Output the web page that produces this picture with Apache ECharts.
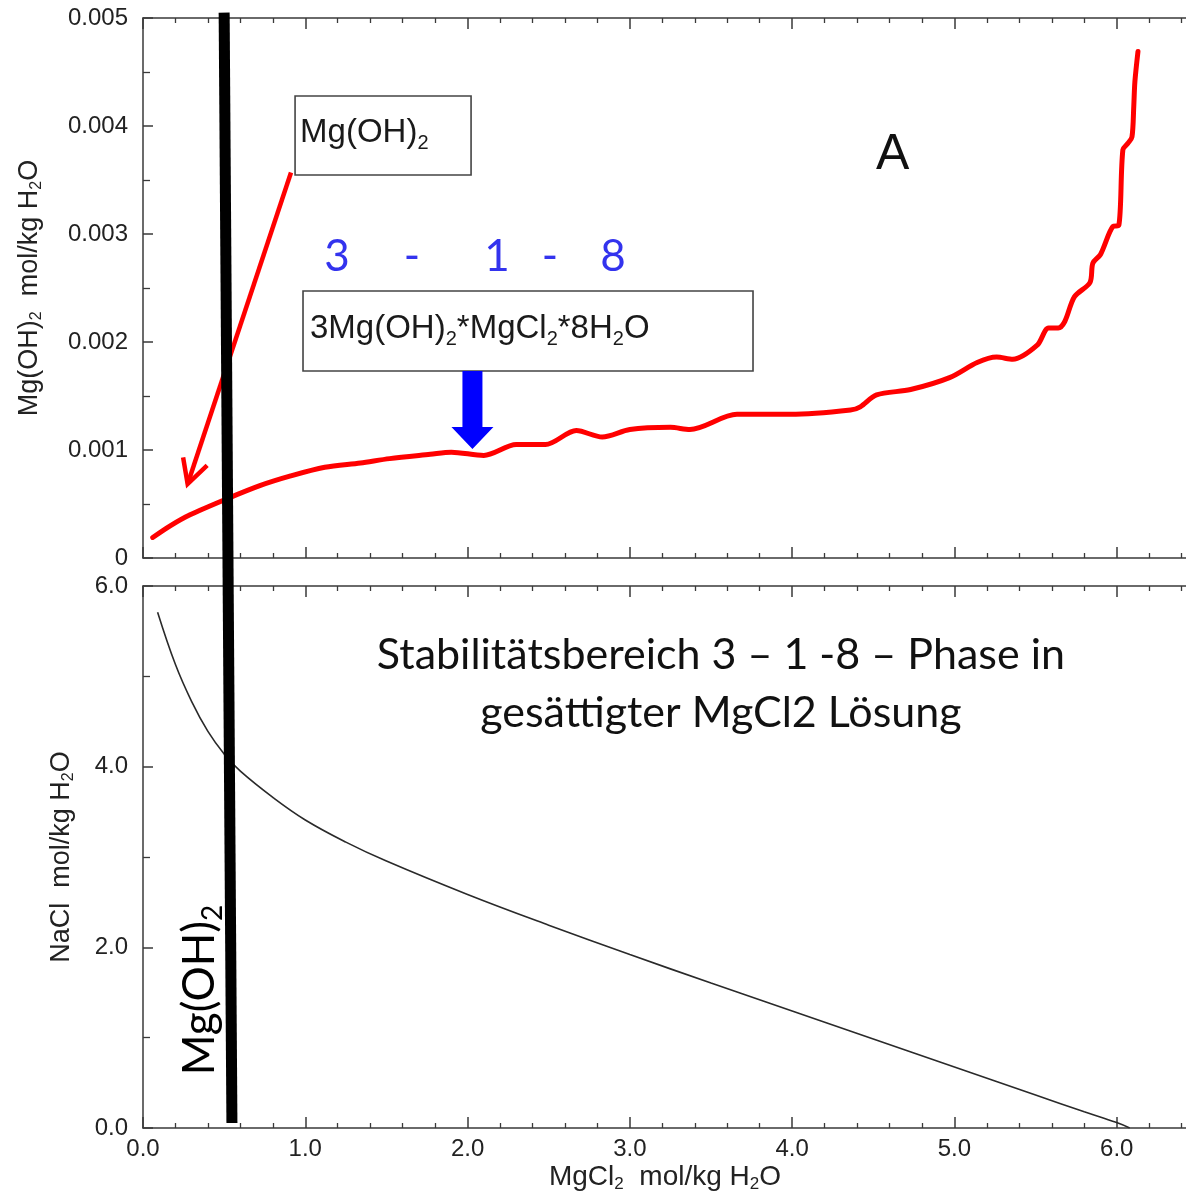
<!DOCTYPE html>
<html>
<head>
<meta charset="utf-8">
<script src="https://cdn.jsdelivr.net/npm/echarts@6/dist/echarts.min.js"></script>
<style>
  html, body { margin: 0; padding: 0; background: #fff; }
  #chart { width: 1186px; height: 1199px; }
</style>
</head>
<body>
<div id="chart"></div>
<script>
// Mg(OH)2 solubility along the 3-1-8 phase boundary (mol/kg H2O) vs MgCl2 (mol/kg H2O)
const mgcl2Upper = [0.06, 0.17, 0.29, 0.52, 0.72, 0.91, 1.12, 1.34, 1.52, 1.77, 1.90, 2.10, 2.30, 2.48,
  2.67, 2.83, 3.00, 3.25, 3.37, 3.66, 3.99, 4.36, 4.42, 4.52, 4.73, 4.97, 5.14, 5.26, 5.36, 5.51,
  5.58, 5.64, 5.68, 5.74, 5.835, 5.853, 5.90, 5.977, 6.013, 6.038, 6.069, 6.094, 6.105, 6.112, 6.131];
const mgoh2Upper = [0.00019, 0.00030, 0.00040, 0.00055, 0.00067, 0.00076, 0.00084, 0.00088, 0.00092,
  0.00096, 0.00098, 0.00095, 0.00105, 0.00105, 0.00118, 0.00112, 0.00119, 0.00121, 0.00119, 0.00133,
  0.00133, 0.00137, 0.00140, 0.00151, 0.00156, 0.00167, 0.00181, 0.00186, 0.00184, 0.00197, 0.00213,
  0.00213, 0.00219, 0.00242, 0.00255, 0.00273, 0.00281, 0.00307, 0.00308, 0.00378, 0.00384, 0.00390,
  0.00418, 0.00441, 0.00469];

// NaCl saturation (mol/kg H2O) vs MgCl2 (mol/kg H2O)
const mgcl2Lower = [0.09, 0.20, 0.30, 0.40, 0.50, 0.60, 0.80, 1.00, 1.25, 1.50, 2.00, 2.50, 3.00,
  3.50, 4.00, 4.50, 5.00, 5.50, 5.80, 6.00, 6.08];
const naclLower = [5.71, 5.13, 4.72, 4.39, 4.14, 3.95, 3.66, 3.41, 3.165, 2.955, 2.585, 2.245, 1.92,
  1.605, 1.295, 0.985, 0.675, 0.365, 0.18, 0.06, 0.0];

const xTickValues = [0, 1, 2, 3, 4, 5, 6];
const upperYTicks = [0, 0.001, 0.002, 0.003, 0.004, 0.005];
const lowerYTicks = [0, 2, 4, 6];

const sansFont = '"Liberation Sans", Arial, Helvetica, sans-serif';
const noteFont = 'Lato, "Open Sans", sans-serif';
const axisInk = '#3a3a3a';

function pairs(xs, ys) { return xs.map((x, i) => [x, ys[i]]); }

function xAxisFor(grid, position, withLabels) {
  const ax = {
    gridIndex: grid, type: 'value', position: position,
    min: 0, max: xTickValues[xTickValues.length - 1] + 1, interval: 1,
    axisLine: { onZero: false, lineStyle: { color: axisInk, width: 1.5 } },
    axisTick: { inside: true, length: 11, lineStyle: { color: axisInk, width: 1.5 } },
    minorTick: { show: true, splitNumber: 5, length: 5, lineStyle: { color: axisInk, width: 1.3 } },
    splitLine: { show: false },
    axisLabel: { show: false }
  };
  if (withLabels) {
    ax.axisLabel = {
      show: true, margin: 9, fontSize: 24, fontFamily: sansFont, color: '#222',
      formatter: v => (xTickValues.indexOf(v) >= 0 ? v.toFixed(1) : '')
    };
    ax.name = '{a|MgCl}{s|2}{a|  mol/kg H}{s|2}{a|O}';
    ax.nameLocation = 'middle';
    ax.nameGap = 33;
    ax.nameTextStyle = {
      padding: [0, 92, 0, 0],
      rich: {
        a: { fontSize: 28, fontFamily: sansFont, color: '#222' },
        s: { fontSize: 17, fontFamily: sansFont, color: '#222', padding: [15, 0, 0, 0] }
      }
    };
  }
  return ax;
}

function yAxisFor(grid, ticks, split, fmt, name, gap) {
  return {
    gridIndex: grid, type: 'value',
    min: ticks[0], max: ticks[ticks.length - 1], interval: ticks[1] - ticks[0],
    axisLine: { onZero: false, lineStyle: { color: axisInk, width: 1.5 } },
    axisTick: { inside: true, length: 10, lineStyle: { color: axisInk, width: 1.5 } },
    minorTick: { show: true, splitNumber: split, length: 7, lineStyle: { color: axisInk, width: 1.3 } },
    splitLine: { show: false },
    axisLabel: { margin: 15, fontSize: 24, fontFamily: sansFont, color: '#222', formatter: fmt },
    name: name, nameLocation: 'middle', nameGap: gap,
    nameTextStyle: {
      rich: {
        a: { fontSize: 27, fontFamily: sansFont, color: '#222' },
        s: { fontSize: 16, fontFamily: sansFont, color: '#222', padding: [15, 0, 0, 0] }
      }
    }
  };
}

const option = {
  animation: false,
  backgroundColor: '#ffffff',
  grid: [
    { left: 143, top: 18, width: 1136, height: 540, outerBoundsMode: 'none', containLabel: false },
    { left: 143, top: 586, width: 1136, height: 542, outerBoundsMode: 'none', containLabel: false }
  ],
  xAxis: [
    xAxisFor(0, 'bottom', false),
    xAxisFor(0, 'top', false),
    xAxisFor(1, 'bottom', true),
    xAxisFor(1, 'top', false)
  ],
  yAxis: [
    yAxisFor(0, upperYTicks, 2, v => (v === 0 ? '0' : v.toFixed(3)),
      '{a|Mg(OH)}{s|2}{a|  mol/kg H}{s|2}{a|O}', 98),
    yAxisFor(1, lowerYTicks, 2, v => v.toFixed(1),
      '{a|NaCl  mol/kg H}{s|2}{a|O}', 66)
  ],
  series: [
    {
      name: 'Mg(OH)2', type: 'line', xAxisIndex: 0, yAxisIndex: 0,
      data: pairs(mgcl2Upper, mgoh2Upper), showSymbol: false, symbol: 'none',
      smooth: 0.3,
      lineStyle: { color: '#ff0000', width: 5, cap: 'round', join: 'round' },
      z: 5
    },
    {
      name: 'NaCl', type: 'line', xAxisIndex: 2, yAxisIndex: 1,
      data: pairs(mgcl2Lower, naclLower), showSymbol: false, symbol: 'none',
      smooth: 0.4,
      lineStyle: { color: '#2a2a2a', width: 1.6 },
      z: 5
    }
  ]
};

const chart = echarts.init(document.getElementById('chart'), null, { renderer: 'canvas' });
chart.setOption(option);

// data -> pixel helpers for the upper (0) and lower (1) panels
function pt(panel, x, y) {
  return panel === 0
    ? chart.convertToPixel({ xAxisIndex: 0, yAxisIndex: 0 }, [x, y])
    : chart.convertToPixel({ xAxisIndex: 2, yAxisIndex: 1 }, [x, y]);
}

const graphics = [];

// Mg(OH)2 boundary drawn as a heavy bar through both panels
const barTop = pt(0, 0.50, 0.00505);
const barBot = pt(1, 0.548, 0.055);
graphics.push({
  type: 'line', z: 50,
  shape: { x1: barTop[0], y1: barTop[1], x2: barBot[0], y2: barBot[1] },
  style: { stroke: '#000', lineWidth: 11, lineCap: 'butt' }
});

// labelled boxes
function box(anchor, w, h, rich, textTokens, dx, dy) {
  graphics.push({
    type: 'rect', z: 20,
    shape: { x: anchor[0], y: anchor[1], width: w, height: h },
    style: { fill: 'rgba(255,255,255,0)', stroke: '#444', lineWidth: 1.6 }
  });
  graphics.push({
    type: 'text', z: 21,
    x: anchor[0] + dx, y: anchor[1] + dy,
    style: { text: textTokens, rich: rich, verticalAlign: 'middle', align: 'left' }
  });
}
const boxRich = {
  a: { fontSize: 33, fontFamily: sansFont, fill: '#1a1a1a' },
  s: { fontSize: 20, fontFamily: sansFont, fill: '#1a1a1a', padding: [21, 0, 0, 0] }
};
const box1 = pt(0, 0.937, 0.004278);
box(box1, 176, 79, boxRich, '{a|Mg(OH)}{s|2}', 5, 37);
const box2 = pt(0, 0.986, 0.002472);
box(box2, 450, 80, boxRich, '{a|3Mg(OH)}{s|2}{a|*MgCl}{s|2}{a|*8H}{s|2}{a|O}', 7, 38);

// red arrow from the Mg(OH)2 box down to the curve
const rs = pt(0, 0.912, 0.00357);
const rt = pt(0, 0.275, 0.000685);
graphics.push({
  type: 'line', z: 30,
  shape: { x1: rs[0], y1: rs[1], x2: rt[0], y2: rt[1] },
  style: { stroke: '#ff0000', lineWidth: 4.5 }
});
(function () {
  const dx = rs[0] - rt[0], dy = rs[1] - rt[1];
  const len = Math.hypot(dx, dy), ux = dx / len, uy = dy / len;
  const L = 27, th = 28 * Math.PI / 180;
  const rot = a => [rt[0] + L * (ux * Math.cos(a) - uy * Math.sin(a)),
                    rt[1] + L * (ux * Math.sin(a) + uy * Math.cos(a))];
  graphics.push({
    type: 'polyline', z: 30,
    shape: { points: [rot(th), [rt[0], rt[1]], rot(-th)] },
    style: { stroke: '#ff0000', lineWidth: 4.5, fill: null, lineJoin: 'miter' }
  });
})();

// blue arrow from the 3-1-8 box down to the curve
(function () {
  const tip = pt(0, 2.03, 0.00101);
  const top = box2[1] + 80;
  const hh = 22, hw = 21, sw = 10;
  graphics.push({
    type: 'polygon', z: 30,
    shape: { points: [[tip[0], tip[1]], [tip[0] - hw, tip[1] - hh], [tip[0] - sw, tip[1] - hh],
      [tip[0] - sw, top], [tip[0] + sw, top], [tip[0] + sw, tip[1] - hh], [tip[0] + hw, tip[1] - hh]] },
    style: { fill: '#0000ff' }
  });
})();

// panel letter
const aPos = pt(0, 4.62, 0.00373);
graphics.push({
  type: 'text', z: 21, x: aPos[0], y: aPos[1],
  style: { text: 'A', fontSize: 50, fontFamily: sansFont, fill: '#111', align: 'center', verticalAlign: 'middle' }
});

// 3 - 1 - 8 label
[['3', 1.195], ['-', 1.657], ['1', 2.181], ['-', 2.508], ['8', 2.896]].forEach(([t, x]) => {
  const p = pt(0, x, 0.002787);
  graphics.push({
    type: 'text', z: 21, x: p[0], y: p[1],
    style: { text: t, fontSize: 44, fontFamily: noteFont, fill: '#3333ee', align: 'center', verticalAlign: 'middle' }
  });
});

// stability note in the lower panel
[['Stabilitätsbereich 3 – 1 -8 – Phase in', 5.238], ['gesättigter MgCl2 Lösung', 4.596]].forEach(([t, y]) => {
  const p = pt(1, 3.561, y);
  graphics.push({
    type: 'text', z: 21, x: p[0], y: p[1],
    style: { text: t, fontSize: 43, fontFamily: noteFont, fill: '#111', align: 'center', verticalAlign: 'middle' }
  });
});

// vertical Mg(OH)2 label beside the bar
(function () {
  const p = pt(1, 0.351, 1.528);
  graphics.push({
    type: 'text', z: 21, x: p[0], y: p[1], rotation: Math.PI / 2,
    style: {
      text: '{a|Mg(OH)}{s|2}', align: 'center', verticalAlign: 'middle',
      rich: {
        a: { fontSize: 44, fontFamily: noteFont, fill: '#000' },
        s: { fontSize: 28, fontFamily: noteFont, fill: '#000', padding: [26, 0, 0, 0] }
      }
    }
  });
})();

chart.setOption({ graphic: { elements: graphics } });
</script>
</body>
</html>
